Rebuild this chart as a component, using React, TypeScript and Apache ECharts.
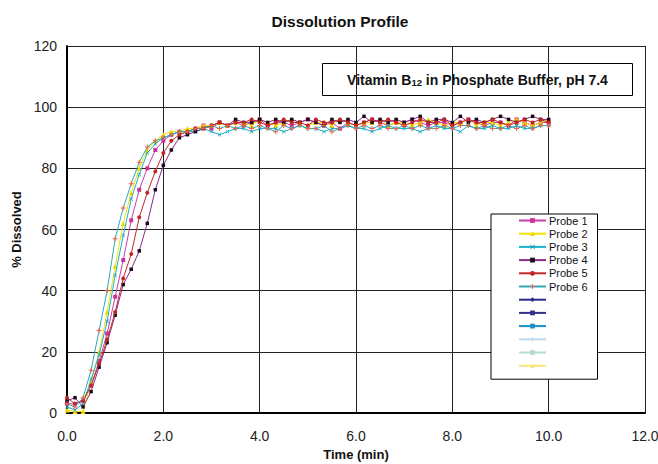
import React, { useEffect, useRef } from "react";
import * as echarts from "echarts";

const TIME_SEC = [
  0, 10, 20, 30, 40, 50, 60, 70, 80, 90, 100, 110, 120, 130, 140, 150, 160, 170, 180, 190,
  200, 210, 220, 230, 240, 250, 260, 270, 280, 290, 300, 310, 320, 330, 340, 350, 360, 370, 380, 390,
  400, 410, 420, 430, 440, 450, 460, 470, 480, 490, 500, 510, 520, 530, 540, 550, 560, 570, 580, 590, 600,
];

const PROBE_1 = [3, 3, 4, 9, 17, 26, 38, 50, 63, 73, 80, 86, 89, 91, 92,
  92, 93, 94, 93, 95, 94, 95, 94, 95, 96,
  94, 95, 95, 94, 95, 96, 95, 94, 95, 93,
  95, 94, 95, 96, 95, 94, 95, 95, 96, 95,
  94, 95, 95, 94, 95, 96, 95, 94, 95, 95,
  94, 96, 95, 94, 95, 95];
const PROBE_2 = [1, 0.5, 0.5, 10, 20, 33, 48, 62, 72, 80, 86, 89, 91, 92, 92,
  93, 93, 94, 94, 95, 94, 95, 95, 94, 96,
  95, 94, 95, 96, 95, 94, 95, 95, 94, 96,
  95, 94, 95, 95, 96, 94, 95, 95, 94, 95,
  96, 95, 94, 95, 95, 96, 94, 95, 95, 94,
  95, 96, 95, 94, 95, 96];
const PROBE_3 = [2, 1, 3, 11, 19, 30, 45, 58, 70, 78, 85, 88, 90, 91, 92,
  92, 92, 93, 92, 91, 92, 93, 93, 92, 93,
  93, 93, 92, 93, 94, 93, 93, 92, 93, 93,
  94, 93, 93, 92, 93, 94, 93, 93, 93, 92,
  93, 94, 93, 93, 92, 94, 93, 93, 94, 93,
  93, 94, 93, 93, 94, 94];
const PROBE_4 = [4, 5, 2, 7, 15, 23, 32, 42, 47, 53, 62, 73, 81, 86, 90,
  91, 92, 93, 94, 95, 94, 96, 95, 95, 96,
  95, 96, 95, 96, 95, 96, 95, 94, 96, 95,
  96, 95, 97, 95, 96, 95, 96, 95, 96, 97,
  95, 96, 96, 95, 97, 95, 96, 95, 96, 97,
  96, 95, 96, 97, 96, 96];
const PROBE_5 = [5, 3, 4, 9, 16, 24, 33, 44, 52, 64, 72, 79, 85, 89, 91,
  92, 93, 93, 94, 95, 94, 95, 95, 96, 95,
  94, 95, 96, 95, 95, 94, 96, 95, 95, 96,
  95, 94, 95, 96, 95, 96, 95, 94, 95, 96,
  95, 95, 96, 94, 95, 96, 95, 95, 96, 95,
  94, 95, 96, 95, 96, 95];
const PROBE_6 = [3, 2, 5, 14, 27, 40, 57, 67, 75, 82, 87, 89, 90, 91, 92,
  92, 93, 93, 94, 93, 94, 93, 94, 93, 94,
  93, 92, 94, 93, 94, 93, 93, 94, 92, 93,
  94, 93, 94, 93, 94, 93, 93, 94, 93, 94,
  93, 93, 94, 93, 94, 94, 93, 94, 93, 93,
  94, 93, 94, 93, 94, 94];

const SERIES_NAMES = ["Probe 1", "Probe 2", "Probe 3", "Probe 4", "Probe 5", "Probe 6"];
const EMPTY_NAMES = ["s7", "s8", "s9", "s10", "s11", "s12"];

const X_TICKS = [0, 2, 4, 6, 8, 10, 12];
const Y_TICKS = [0, 20, 40, 60, 80, 100, 120];

const PLUS = "path://M4,0H6V4H10V6H6V10H4V6H0V4H4Z";
const CROSS = "path://M1,0L5,4L9,0L10,1L6,5L10,9L9,10L5,6L1,10L0,9L4,5L0,1Z";

const STYLES = [
  { line: "#c83ca8", mark: "#d0309c", symbol: "rect", size: 4 },
  { line: "#f5e000", mark: "#f0d800", symbol: "triangle", size: 5 },
  { line: "#18b0cc", mark: "#1898b8", symbol: CROSS, size: 4 },
  { line: "#8a2a8a", mark: "#1a0a1a", symbol: "rect", size: 3.5 },
  { line: "#c02a2a", mark: "#c02424", symbol: "circle", size: 4 },
  { line: "#30a8b8", mark: "#f06040", symbol: PLUS, size: 5 },
];
const EMPTY_STYLES = [
  { line: "#2a2a8c", mark: "#2a2a8c", symbol: "diamond", size: 5 },
  { line: "#32328c", mark: "#32328c", symbol: "rect", size: 3 },
  { line: "#1890c8", mark: "#1890c8", symbol: "rect", size: 3 },
  { line: "#bcd8ee", mark: "#bcd8ee", symbol: PLUS, size: 4 },
  { line: "#b4ddd2", mark: "#b4ddd2", symbol: "rect", size: 4 },
  { line: "#f8e67a", mark: "#f8e67a", symbol: "triangle", size: 4 },
];

const FONT = "Liberation Sans, Arial, sans-serif";

export default function App() {
  const ref = useRef<HTMLDivElement>(null);
  useEffect(() => {
    if (!ref.current) return;
    document.body.style.margin = "0";
    const chart = echarts.init(ref.current, null, { renderer: "svg" });
    const probes = [PROBE_1, PROBE_2, PROBE_3, PROBE_4, PROBE_5, PROBE_6];
    const series: any[] = probes.map((vals, k) => ({
      name: SERIES_NAMES[k],
      type: "line",
      data: vals.map((v, i) => [TIME_SEC[i] / 60, v]),
      symbol: STYLES[k].symbol,
      symbolSize: STYLES[k].size,
      showSymbol: true,
      lineStyle: { color: STYLES[k].line, width: 1 },
      itemStyle: { color: STYLES[k].mark, borderWidth: 0 },
      z: 3 + k,
    }));
    EMPTY_NAMES.forEach((n, k) => {
      series.push({
        name: n,
        type: "line",
        data: [],
        symbol: EMPTY_STYLES[k].symbol,
        symbolSize: EMPTY_STYLES[k].size,
        lineStyle: { color: EMPTY_STYLES[k].line, width: 1 },
        itemStyle: { color: EMPTY_STYLES[k].mark, borderWidth: 0 },
      });
    });
    chart.setOption({
      animation: false,
      backgroundColor: "#ffffff",
      title: {
        text: "Dissolution Profile",
        left: 335,
        top: 8,
        textAlign: "center",
        textStyle: { fontFamily: FONT, fontSize: 15.5, fontWeight: "bold", color: "#111" },
      },
      grid: { left: 67, right: 13, top: 46, bottom: 51, outerBoundsMode: "none", containLabel: false },
      xAxis: {
        type: "value",
        min: X_TICKS[0],
        max: X_TICKS[X_TICKS.length - 1],
        interval: 2,
        name: "Time (min)",
        nameLocation: "middle",
        nameGap: 24,
        nameTextStyle: { fontFamily: FONT, fontSize: 13, fontWeight: "bold", color: "#111" },
        axisLine: { lineStyle: { color: "#000", width: 2 } },
        axisTick: { show: false },
        axisLabel: {
          fontFamily: FONT,
          fontSize: 14,
          color: "#222",
          margin: 16,
          formatter: (v: number) => v.toFixed(1),
        },
        splitLine: { show: true, lineStyle: { color: "#222", width: 1 } },
      },
      yAxis: {
        type: "value",
        min: Y_TICKS[0],
        max: Y_TICKS[Y_TICKS.length - 1],
        interval: 20,
        name: "% Dissolved",
        nameLocation: "middle",
        nameGap: 40,
        nameRotate: 90,
        nameTextStyle: { fontFamily: FONT, fontSize: 13, fontWeight: "bold", color: "#111" },
        axisLine: { show: true, lineStyle: { color: "#000", width: 2 } },
        axisTick: { show: false },
        axisLabel: { fontFamily: FONT, fontSize: 14, color: "#222", margin: 10 },
        splitLine: { show: true, lineStyle: { color: "#222", width: 1 } },
      },
      legend: {
        orient: "vertical",
        left: 491,
        top: 214,
        width: 106,
        padding: [1, 10, 8, 27],
        itemGap: 2.2,
        itemWidth: 27,
        itemHeight: 6,
        backgroundColor: "#fff",
        borderColor: "#000",
        borderWidth: 1,
        data: [...SERIES_NAMES, ...EMPTY_NAMES],
        formatter: (n: string) => (n.startsWith("Probe") ? n : " "),
        textStyle: { fontFamily: FONT, fontSize: 11, color: "#111", lineHeight: 10, height: 10, padding: [0, 0, 0, -2] },
      },
      graphic: [
        {
          type: "group",
          left: 322,
          top: 63,
          children: [
            {
              type: "rect",
              shape: { x: 0, y: 0, width: 310, height: 32 },
              style: { fill: "#fff", stroke: "#000", lineWidth: 1 },
            },
            {
              type: "text",
              x: 155,
              y: 16,
              style: {
                text: "{a|Vitamin B}{s|12}{a| in Phosphate Buffer, pH 7.4}",
                align: "center",
                verticalAlign: "middle",
                rich: {
                  a: { fontFamily: FONT, fontSize: 14, fontWeight: "bold", fill: "#111", lineHeight: 16 },
                  s: { fontFamily: FONT, fontSize: 9.5, fontWeight: "bold", fill: "#111", lineHeight: 16, padding: [6, 0, 0, 0] },
                },
              },
            },
          ],
        },
      ],
      series,
    });
    return () => chart.dispose();
  }, []);
  return <div ref={ref} style={{ width: 658, height: 464 }} />;
}
